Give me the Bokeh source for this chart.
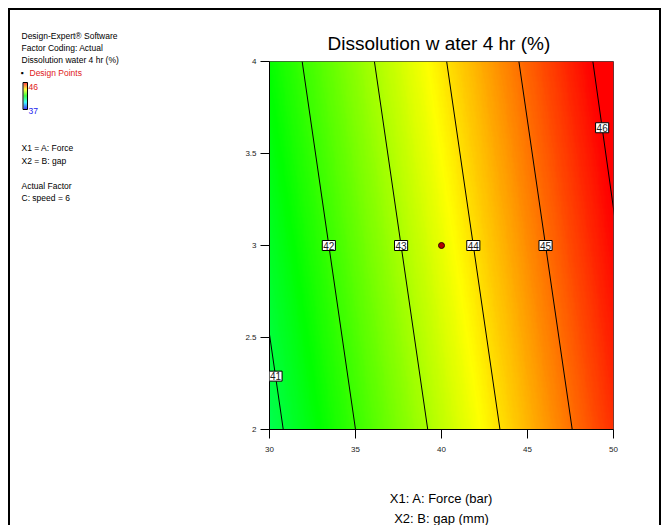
import numpy as np
from bokeh.plotting import figure
from bokeh.layouts import row
from bokeh.models import Label, FixedTicker, LinearColorMapper, Range1d, Title
from bokeh.core.properties import value
from bokeh.embed import file_html
from bokeh.resources import INLINE

# ---- data ----
levels = [41, 42, 43, 44, 45, 46]
x_at_gap4 = [27.7, 31.9, 36.1, 40.3, 44.5, 48.8]   # contour x position at gap = 4
x_at_gap2 = [30.8, 35.0, 39.2, 43.4, 47.6, 51.8]   # contour x position at gap = 2
label_gap = [2.29, 3.0, 3.0, 3.0, 3.0, 3.64]
design_force = [40]
design_gap = [3]
x_ticks = [30, 35, 40, 45, 50]
y_ticks = [2, 2.5, 3, 3.5, 4]
color_low, color_high = 37, 46
info_lines = ["Design-Expert® Software", "Factor Coding: Actual", "Dissolution water  4 hr (%)"]
factor_lines = ["X1 = A: Force", "X2 = B: gap"]
actual_lines = ["Actual Factor", "C: speed = 6"]

FONT = "Liberation Sans"
OX, OY = 10, 10             # content origin inside the outer border
LEFT_W = 190
H = 525 - OY
RIGHT_W = 659 - OX - LEFT_W
FL, FR, FT, FB = 269, 613, 61, 430   # chart frame in page px

# ---- palette: blue -> cyan -> green -> yellow -> red ----
stops = np.array([[0, 0, 255], [0, 255, 255], [0, 255, 0], [255, 255, 0], [255, 0, 0]], float)
t = np.linspace(0, 1, 256)
pos = np.linspace(0, 1, len(stops))
rgb = np.stack([np.interp(t, pos, stops[:, k]) for k in range(3)], axis=1).astype(int)
palette = ["#%02x%02x%02x" % tuple(c) for c in rgb]
mapper = LinearColorMapper(palette=palette, low=color_low, high=color_high)

# ================= chart =================
p = figure(width=RIGHT_W, height=H, x_range=(30, 50), y_range=(2, 4),
           output_backend="svg", toolbar_location=None,
           min_border_left=FL - OX - LEFT_W, min_border_right=OX + LEFT_W + RIGHT_W - FR,
           min_border_top=FT - OY, min_border_bottom=525 - FB)
p.frame_align = False
p.grid.visible = False
p.outline_line_color = "#444444"
p.outline_line_width = 1
p.border_fill_color = "white"

p.title.text = "Dissolution w ater  4 hr (%)"
p.title.align = "center"
p.title.text_font = FONT
p.title.text_font_size = "19px"
p.title.text_font_style = "normal"
p.title.text_color = "black"
p.title.standoff = 15

# fill surface derived from the contour lines
nx, ny = 400, 200
xg = np.linspace(30, 50, nx)
yg = np.linspace(2, 4, ny)
lv = np.array(levels, float)
x4 = np.array(x_at_gap4)
x2 = np.array(x_at_gap2)
Z = np.zeros((ny, nx))
for i, yy in enumerate(yg):
    f = (yy - 2) / 2
    xs = x2 + (x4 - x2) * f
    z = np.interp(xg, xs, lv)
    lo = xg < xs[0]
    z[lo] = lv[0] + (xg[lo] - xs[0]) * (lv[1] - lv[0]) / (xs[1] - xs[0])
    hi = xg > xs[-1]
    z[hi] = lv[-1] + (xg[hi] - xs[-1]) * (lv[-1] - lv[-2]) / (xs[-1] - xs[-2])
    Z[i] = z
p.image(image=[Z], x=30, y=2, dw=20, dh=2, color_mapper=mapper)

# contour lines
p.segment(x0=x_at_gap2, y0=[2] * len(levels), x1=x_at_gap4, y1=[4] * len(levels),
          line_color="black", line_width=1)

# contour labels
lab_x = [b + (a - b) * (g - 2) / 2 for a, b, g in zip(x_at_gap4, x_at_gap2, label_gap)]
for lx, ly, lvl in zip(lab_x, label_gap, levels):
    p.add_layout(Label(x=lx, y=ly, text=str(lvl), text_align="center", text_baseline="middle",
                       text_font=FONT, text_font_size="10px", text_color="#222222",
                       background_fill_color="white", border_line_color="black",
                       border_line_width=1, padding=1))

# design point
p.scatter(design_force, design_gap, size=6, fill_color="#b00000", line_color="#300000")

# axes
for ax, ticks in ((p.xaxis, x_ticks), (p.yaxis, y_ticks)):
    ax.ticker = FixedTicker(ticks=ticks)
    ax.major_tick_out = 9
    ax.major_tick_in = 0
    ax.minor_tick_out = 0
    ax.minor_tick_in = 0
    ax.axis_line_color = "black"
    ax.major_tick_line_color = "black"
    ax.major_label_text_font = FONT
    ax.major_label_text_font_size = "8px"
    ax.major_label_text_color = "#222222"
    ax.major_label_standoff = 4
p.xaxis.major_label_standoff = 8
p.xaxis.axis_label = "X1: A: Force (bar)"
p.xaxis.axis_label_text_font = FONT
p.xaxis.axis_label_text_font_size = "13px"
p.xaxis.axis_label_text_font_style = "normal"
p.xaxis.axis_label_text_color = "black"
p.xaxis.axis_label_standoff = 36
p.add_layout(Title(text="X2: B: gap (mm)", align="center", text_font=FONT,
                   text_font_size="13px", text_font_style="normal",
                   text_color="black", standoff=0), "below")

# ================= left info panel =================
q = figure(width=LEFT_W, height=H, x_range=Range1d(OX, OX + LEFT_W),
           y_range=Range1d(525, OY), output_backend="svg", toolbar_location=None,
           x_axis_location=None, y_axis_location=None, min_border=0)
q.frame_align = False
q.grid.visible = False
q.outline_line_color = None
q.border_fill_color = "white"

def txt(xs, ys, texts, color="black", size="8.5px"):
    q.text(x=xs, y=ys, text=texts, text_font=value(FONT), text_font_size=value(size),
           text_color=color, text_baseline="middle", text_align="left")

txt([21] * 3, [35, 47, 59], info_lines)
txt([20], [72], ["▪"])
txt([29], [72], ["Design Points"], color="#e02020")
txt([28], [86], [str(color_high)], color="#e02020")
txt([28], [110], [str(color_low)], color="#2222ee")
txt([21] * 2, [147, 160], factor_lines)
txt([21] * 2, [185, 197], actual_lines)

# colour legend strip
top_y, bot_y = 82, 109
n = bot_y - top_y
strip_vals = np.linspace(color_high, color_low, n)
strip_cols = [palette[int(round((v - color_low) / (color_high - color_low) * 255))] for v in strip_vals]
q.quad(left=[23] * n, right=[27] * n, top=[top_y + k for k in range(n)],
       bottom=[top_y + k + 1 for k in range(n)], fill_color=strip_cols, line_color=None)
q.quad(left=[22.5], right=[27], top=[top_y], bottom=[bot_y], fill_color=None,
       line_color="black", line_width=1)

layout = row(q, p, styles={"margin-left": "8px", "margin-top": "8px",
                           "border-left": "2px solid black",
                           "border-top": "2px solid black",
                           "border-right": "2px solid black"})

open("out.html", "w").write(file_html(layout, INLINE))
